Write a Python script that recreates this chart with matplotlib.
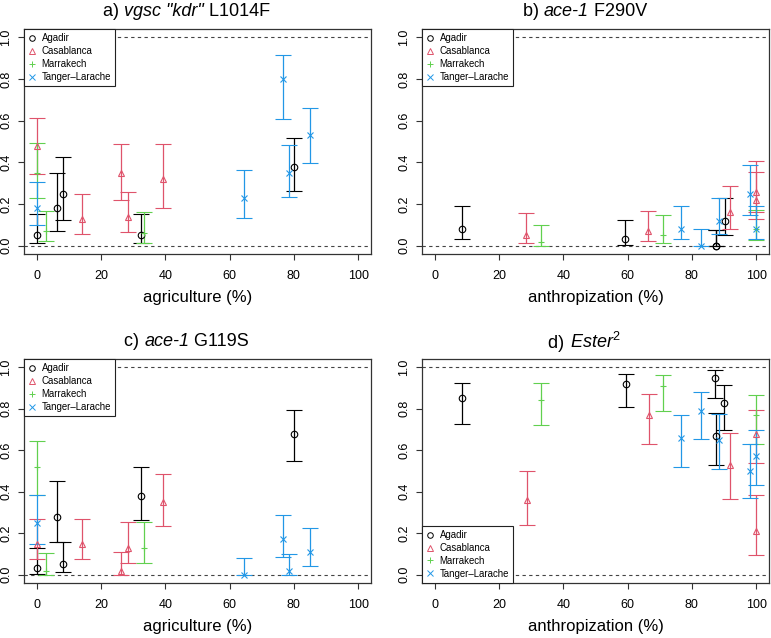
## Plots allele frequencies (with CI) against land use for 4 resistance markers

import matplotlib.pyplot as plt
import numpy as np
from matplotlib.lines import Line2D
from matplotlib.offsetbox import TextArea, HPacker, AnnotationBbox

plt.rcParams['font.family'] = ['Liberation Sans', 'DejaVu Sans']
plt.rcParams['mathtext.fontset'] = 'custom'
plt.rcParams['mathtext.it'] = 'Liberation Sans:italic'
plt.rcParams['mathtext.rm'] = 'Liberation Sans'

pops = ['Agadir', 'Casablanca', 'Marrakech', 'Tanger\u2013Larache']

## each row: x, freq, lower CI, upper CI
## a) vgsc kdr L1014F vs agriculture
kdr_agadir = np.array([[0, 0.05, 0.013, 0.15], [6.3, 0.18, 0.072, 0.35], [8, 0.25, 0.125, 0.425],
	[32.5, 0.05, 0.013, 0.152], [80, 0.38, 0.263, 0.516]])
kdr_casablanca = np.array([[0, 0.48, 0.346, 0.615], [14.2, 0.13, 0.056, 0.247], [26.3, 0.35, 0.221, 0.49],
	[28.5, 0.14, 0.066, 0.258], [39.2, 0.32, 0.18, 0.487]])
kdr_marrakech = np.array([[0, 0.35, 0.231, 0.494], [3, 0.07, 0.021, 0.168], [33.2, 0.06, 0.014, 0.162]])
kdr_tanger = np.array([[0, 0.18, 0.099, 0.306], [64.6, 0.23, 0.133, 0.365], [76.7, 0.80, 0.606, 0.913],
	[78.4, 0.35, 0.234, 0.484], [85.1, 0.53, 0.399, 0.659]])

## b) ace-1 F290V vs anthropization
f290v_agadir = np.array([[8.5, 0.08, 0.03, 0.191], [59.3, 0.03, 0.005, 0.125], [87.4, 0.0, 0.0, 0.075],
	[87.4, 0.0, 0.0, 0.075], [90.2, 0.12, 0.053, 0.229]])
f290v_casablanca = np.array([[28.5, 0.05, 0.014, 0.159], [66.4, 0.07, 0.021, 0.168], [92.0, 0.16, 0.08, 0.288],
	[100, 0.26, 0.16, 0.405], [100, 0.22, 0.13, 0.355]])
f290v_marrakech = np.array([[33.0, 0.02, 0.0, 0.101], [70.9, 0.05, 0.014, 0.149], [100, 0.08, 0.027, 0.172]])
f290v_tanger = np.array([[76.5, 0.08, 0.03, 0.191], [82.8, 0.0, 0.0, 0.08], [88.5, 0.12, 0.055, 0.231],
	[98.0, 0.25, 0.149, 0.385], [100, 0.08, 0.03, 0.191]])

## c) ace-1 G119S vs agriculture
g119s_agadir = np.array([[0, 0.03, 0.005, 0.129], [6.3, 0.28, 0.156, 0.45], [8, 0.05, 0.013, 0.156],
	[32.3, 0.38, 0.264, 0.519], [80, 0.68, 0.55, 0.794]])
g119s_casablanca = np.array([[0, 0.15, 0.074, 0.27], [14.2, 0.15, 0.075, 0.27], [26.3, 0.02, 0.0, 0.111],
	[28.5, 0.13, 0.056, 0.256], [39.2, 0.35, 0.235, 0.486]])
g119s_marrakech = np.array([[0, 0.52, 0.385, 0.646], [3, 0.02, 0.0, 0.106], [33.2, 0.13, 0.056, 0.256]])
g119s_tanger = np.array([[0, 0.25, 0.15, 0.386], [64.6, 0.0, 0.0, 0.079], [76.7, 0.17, 0.085, 0.288],
	[78.4, 0.02, 0.0, 0.10], [85.1, 0.11, 0.043, 0.225]])

## d) Ester2 vs anthropization
ester_agadir = np.array([[8.5, 0.85, 0.727, 0.925], [59.4, 0.92, 0.809, 0.968], [87.3, 0.95, 0.851, 0.986],
	[87.4, 0.67, 0.531, 0.778], [90.1, 0.83, 0.698, 0.915]])
ester_casablanca = np.array([[28.6, 0.36, 0.242, 0.499], [66.5, 0.77, 0.628, 0.87], [92.0, 0.53, 0.363, 0.682],
	[100, 0.68, 0.539, 0.795], [100, 0.21, 0.093, 0.385]])
ester_marrakech = np.array([[33.1, 0.84, 0.722, 0.925], [70.9, 0.91, 0.79, 0.965], [100, 0.77, 0.632, 0.867]])
ester_tanger = np.array([[76.5, 0.66, 0.518, 0.77], [82.7, 0.79, 0.652, 0.88], [88.5, 0.65, 0.509, 0.775],
	[98.0, 0.50, 0.369, 0.631], [100, 0.57, 0.433, 0.70]])

cols = ['#000000', '#DF536B', '#61D04F', '#2297E6']
marks = ['o', '^', '+', 'x']

W, H = 771, 638

def MakePanel(fig, rect, datasets, xlabel, title_parts, title_y, legend_loc):

	## rect in pixels: left, top, right, bottom
	l, t, r, b = rect
	ax = fig.add_axes([l/W, 1 - b/H, (r - l)/W, (b - t)/H])

	for d, c, m in zip(datasets, cols, marks):
		x, y, lo, hi = d[:, 0], d[:, 1], d[:, 2], d[:, 3]
		ax.errorbar(x, y, yerr=[y - lo, hi - y], fmt=m, color=c, mfc='none', ms=4.7, mew=0.8,
			elinewidth=0.9, capsize=5.5, capthick=0.9)

	ax.axhline(0, color='#444444', lw=0.8, ls=(0, (3, 3)), zorder=0)
	ax.axhline(1, color='#444444', lw=0.8, ls=(0, (3, 3)), zorder=0)

	ax.set_xlim(-4, 104)
	ax.set_ylim(-0.04, 1.04)
	ax.set_xticks(np.arange(0, 101, 20))
	ax.set_yticks(np.arange(0, 1.01, 0.2))
	ax.set_yticklabels([f'{v:.1f}' for v in np.arange(0, 1.01, 0.2)], rotation=90, va='center')
	ax.tick_params(axis='both', labelsize=9, length=4.5, width=0.8, color='#333333')
	ax.tick_params(axis='x', pad=7)
	ax.tick_params(axis='y', pad=4)
	for s in ax.spines.values():
		s.set_linewidth(0.9)
		s.set_color('#333333')

	ax.set_xlabel(xlabel, fontsize=12, labelpad=6)

	handles = [Line2D([], [], ls='none', marker=m, color=c, mfc='none', ms=4, mew=0.7) for c, m in zip(cols, marks)]
	leg = ax.legend(handles, pops, loc=legend_loc, borderaxespad=0, fontsize=6.9, fancybox=False,
		edgecolor='#222222', framealpha=1, handlelength=0.7, handletextpad=0.7, borderpad=0.45,
		labelspacing=0.3)
	leg.get_frame().set_linewidth(0.8)

	## title with italic gene names
	areas = [TextArea(txt, textprops=dict(fontsize=13, style=st)) for txt, st in title_parts]
	pack = HPacker(children=areas, align='baseline', pad=0, sep=0)
	ab = AnnotationBbox(pack, ((l + r)/2/W - 0.014, 1 - title_y/H), xycoords='figure fraction',
		box_alignment=(0.5, 0.5), frameon=False, pad=0)
	fig.add_artist(ab)

	return ax

if __name__ == '__main__':

	fig = plt.figure(figsize=(W/100, H/100), dpi=100)

	MakePanel(fig, (24, 29, 371, 254), [kdr_agadir, kdr_casablanca, kdr_marrakech, kdr_tanger],
		'agriculture (%)', [('a) ', 'normal'), ('vgsc "kdr"', 'italic'), (' L1014F', 'normal')], 11, 'upper left')
	MakePanel(fig, (422, 29, 769, 254), [f290v_agadir, f290v_casablanca, f290v_marrakech, f290v_tanger],
		'anthropization (%)', [('b) ', 'normal'), ('ace-1', 'italic'), (' F290V', 'normal')], 11, 'upper left')
	MakePanel(fig, (24, 359, 371, 583), [g119s_agadir, g119s_casablanca, g119s_marrakech, g119s_tanger],
		'agriculture (%)', [('c) ', 'normal'), ('ace-1', 'italic'), (' G119S', 'normal')], 342, 'upper left')
	MakePanel(fig, (422, 359, 769, 583), [ester_agadir, ester_casablanca, ester_marrakech, ester_tanger],
		'anthropization (%)', [('d) ', 'normal'), (r'$\mathit{Ester}^{\mathit{2}}$', 'normal')], 342, 'lower left')

	fig.savefig('out.png', dpi=100)
